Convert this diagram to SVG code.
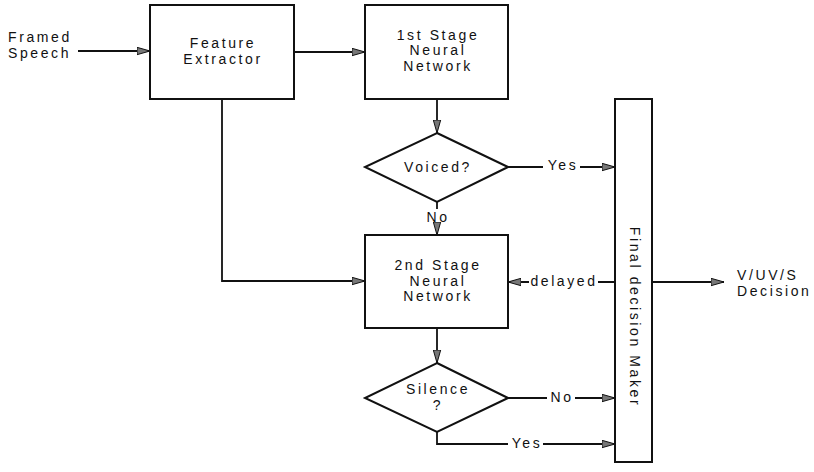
<svg xmlns="http://www.w3.org/2000/svg" width="814" height="472" viewBox="0 0 814 472">
<style>
.box{fill:#fff;stroke:#111;stroke-width:2}
.ln{fill:none;stroke:#111;stroke-width:1.8}
text{font-family:"Liberation Sans",Arial,sans-serif;font-size:14px;fill:#111;letter-spacing:2.6px}
.c{text-anchor:middle}
</style>
<defs>
<marker id="ah" markerWidth="14" markerHeight="9" refX="13" refY="4.5" orient="auto" markerUnits="userSpaceOnUse">
<path d="M0,0.8 L13,4.5 L0,8.2 Z" fill="#777" stroke="#111" stroke-width="1"/>
</marker>
</defs>
<rect width="814" height="472" fill="#fff"/>
<g id="connectors">
<path class="ln" d="M78,51 H150" marker-end="url(#ah)"/>
<path class="ln" d="M294,52 H365" marker-end="url(#ah)"/>
<path class="ln" d="M222,99 V281 H365" marker-end="url(#ah)"/>
<path class="ln" d="M437,99 V133" marker-end="url(#ah)"/>
<path class="ln" d="M508,167 H543 M580,167 H615" marker-end="url(#ah)"/>
<path class="ln" d="M437,202 V209 M437,226 V235" marker-end="url(#ah)"/>
<path class="ln" d="M615,282 H598 M529,282 H508" marker-end="url(#ah)"/>
<path class="ln" d="M652,282 H724" marker-end="url(#ah)"/>
<path class="ln" d="M437,328 V363" marker-end="url(#ah)"/>
<path class="ln" d="M508,398 H547 M575,398 H615" marker-end="url(#ah)"/>
<path class="ln" d="M437,432 V444 H508 M543,444 H615" marker-end="url(#ah)"/>
</g>
<g id="labels">
<text x="8" y="42">Framed</text>
<text x="8" y="58">Speech</text>
<text class="c" x="563" y="170">Yes</text>
<text class="c" x="438" y="222">No</text>
<text class="c" x="564" y="286">delayed</text>
<text x="737" y="280">V/UV/S</text>
<text x="737" y="296">Decision</text>
<text class="c" x="562" y="402">No</text>
<text class="c" x="527" y="448">Yes</text>
</g>
<g id="feature-extractor">
<rect class="box" x="150" y="5" width="144" height="94"/>
<text class="c" x="223" y="48">Feature</text>
<text class="c" x="223" y="64">Extractor</text>
</g>
<g id="stage1">
<rect class="box" x="365" y="5" width="143" height="94"/>
<text class="c" x="438" y="40">1st Stage</text>
<text class="c" x="438" y="55">Neural</text>
<text class="c" x="438" y="71">Network</text>
</g>
<g id="voiced">
<polygon class="box" points="437,133 508,167 437,202 365,167"/>
<text class="c" x="438" y="172">Voiced?</text>
</g>
<g id="stage2">
<rect class="box" x="365" y="235" width="143" height="93"/>
<text class="c" x="438" y="270">2nd Stage</text>
<text class="c" x="438" y="286">Neural</text>
<text class="c" x="438" y="301">Network</text>
</g>
<g id="silence">
<polygon class="box" points="437,363 508,398 437,432 365,398"/>
<text class="c" x="438" y="394">Silence</text>
<text class="c" x="438" y="410">?</text>
</g>
<g id="final-decision">
<rect class="box" x="615" y="99" width="37" height="363"/>
<text class="c" transform="translate(630,317) rotate(90)">Final decision Maker</text>
</g>
</svg>
